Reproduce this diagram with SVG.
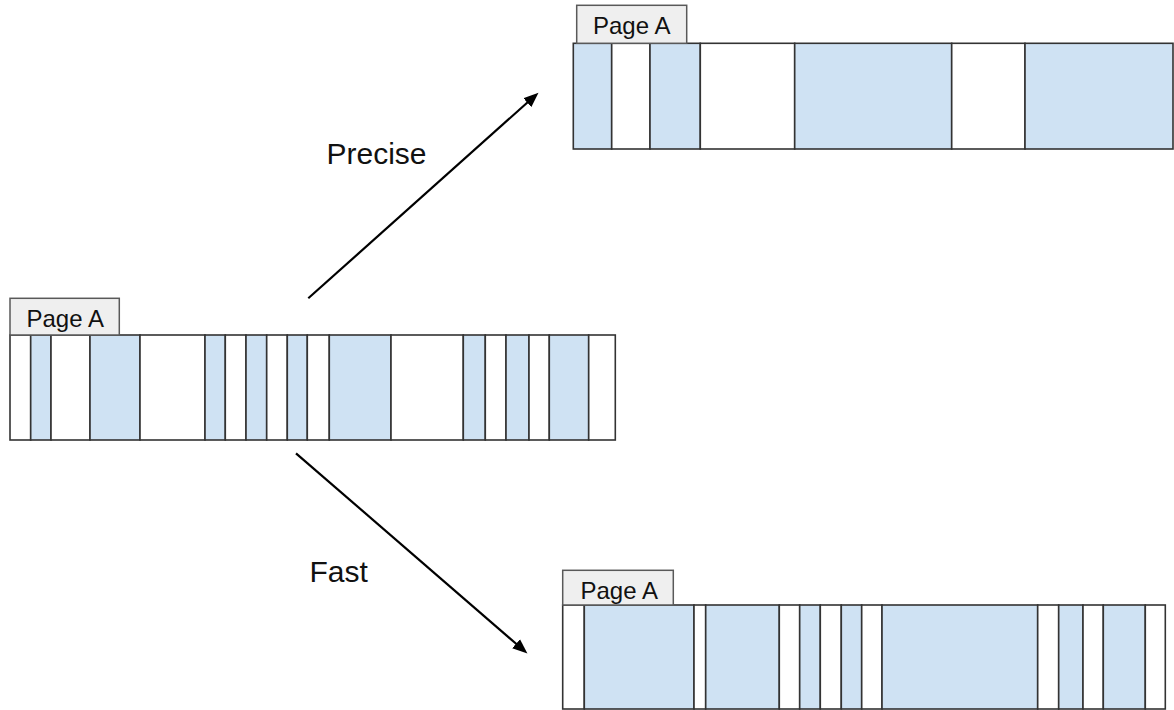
<svg xmlns="http://www.w3.org/2000/svg" width="1174" height="710" viewBox="0 0 1174 710">
<style>
.b{fill:#cfe2f3;stroke:#333;stroke-width:1.6}
.w{fill:#fff;stroke:#333;stroke-width:1.6}
.tab{fill:#efefef;stroke:#595959;stroke-width:1.5}
.tt{font-family:"Liberation Sans",Arial,sans-serif;font-size:24px;fill:#111}
.lbl{font-family:"Liberation Sans",Arial,sans-serif;font-size:30px;fill:#111}
.arr{stroke:#000;stroke-width:2.2;fill:none}
</style>
<defs>
<marker id="ah" markerUnits="userSpaceOnUse" markerWidth="16" markerHeight="13" refX="2" refY="6" orient="auto" viewBox="0 0 16 12">
<path d="M0,0 L15,6 L0,12 z" fill="#000"/>
</marker>
</defs>
<rect width="1174" height="710" fill="#fff"/>
<g id="page-original">
<rect class="w" x="10" y="335" width="20.7" height="105"/>
<rect class="b" x="30.7" y="335" width="20.3" height="105"/>
<rect class="w" x="51" y="335" width="39" height="105"/>
<rect class="b" x="90" y="335" width="50" height="105"/>
<rect class="w" x="140" y="335" width="65" height="105"/>
<rect class="b" x="205" y="335" width="20.3" height="105"/>
<rect class="w" x="225.3" y="335" width="20.7" height="105"/>
<rect class="b" x="246" y="335" width="20.7" height="105"/>
<rect class="w" x="266.7" y="335" width="20.6" height="105"/>
<rect class="b" x="287.3" y="335" width="20" height="105"/>
<rect class="w" x="307.3" y="335" width="22" height="105"/>
<rect class="b" x="329.3" y="335" width="61.7" height="105"/>
<rect class="w" x="391" y="335" width="72.3" height="105"/>
<rect class="b" x="463.3" y="335" width="22" height="105"/>
<rect class="w" x="485.3" y="335" width="20.7" height="105"/>
<rect class="b" x="506" y="335" width="23" height="105"/>
<rect class="w" x="529" y="335" width="20.3" height="105"/>
<rect class="b" x="549.3" y="335" width="39.4" height="105"/>
<rect class="w" x="588.7" y="335" width="26.6" height="105"/>
<rect class="tab" x="10" y="298.3" width="109.3" height="36.7"/>
<text class="tt" x="26.5" y="327">Page A</text>
</g>
<g id="page-precise">
<rect class="b" x="573.3" y="43.3" width="38.4" height="105.7"/>
<rect class="w" x="611.7" y="43.3" width="38.3" height="105.7"/>
<rect class="b" x="650" y="43.3" width="50.3" height="105.7"/>
<rect class="w" x="700.3" y="43.3" width="94.4" height="105.7"/>
<rect class="b" x="794.7" y="43.3" width="157" height="105.7"/>
<rect class="w" x="951.7" y="43.3" width="73.3" height="105.7"/>
<rect class="b" x="1025" y="43.3" width="148" height="105.7"/>
<rect class="tab" x="576.7" y="5.3" width="110" height="38"/>
<text class="tt" x="593" y="33.5">Page A</text>
</g>
<g id="page-fast">
<rect class="w" x="562.7" y="605" width="21.6" height="104"/>
<rect class="b" x="584.3" y="605" width="109.7" height="104"/>
<rect class="w" x="694" y="605" width="11.7" height="104"/>
<rect class="b" x="705.7" y="605" width="73.6" height="104"/>
<rect class="w" x="779.3" y="605" width="20.4" height="104"/>
<rect class="b" x="799.7" y="605" width="20.6" height="104"/>
<rect class="w" x="820.3" y="605" width="21" height="104"/>
<rect class="b" x="841.3" y="605" width="20.4" height="104"/>
<rect class="w" x="861.7" y="605" width="20.3" height="104"/>
<rect class="b" x="882" y="605" width="155.7" height="104"/>
<rect class="w" x="1037.7" y="605" width="21" height="104"/>
<rect class="b" x="1058.7" y="605" width="24.3" height="104"/>
<rect class="w" x="1083" y="605" width="20.3" height="104"/>
<rect class="b" x="1103.3" y="605" width="42" height="104"/>
<rect class="w" x="1145.3" y="605" width="20" height="104"/>
<rect class="tab" x="562.7" y="570.3" width="110.6" height="34.7"/>
<text class="tt" x="580.5" y="599">Page A</text>
</g>
<g id="connectors">
<line class="arr" x1="308.3" y1="298.3" x2="528.8" y2="101.3" marker-end="url(#ah)"/>
<line class="arr" x1="296" y1="453.3" x2="517.6" y2="645" marker-end="url(#ah)"/>
<text class="lbl" x="326.5" y="163.5">Precise</text>
<text class="lbl" x="309.5" y="582">Fast</text>
</g>
</svg>
